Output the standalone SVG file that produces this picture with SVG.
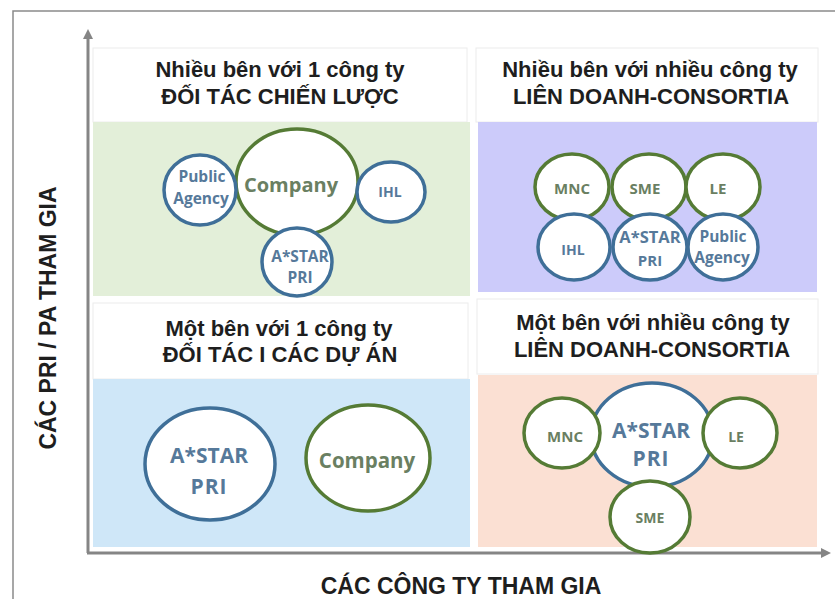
<svg xmlns="http://www.w3.org/2000/svg" width="835" height="599" viewBox="0 0 835 599">
<style>
.hdr{fill:#fff;stroke:#ececec;stroke-width:1}
.t{font-family:"Liberation Sans",Arial,sans-serif;font-weight:bold;font-size:22px;fill:#1e1e1e;text-anchor:middle}
.ax{font-family:"Liberation Sans",Arial,sans-serif;font-weight:bold;font-size:23px;fill:#1e1e1e;text-anchor:middle}
.g{fill:#fff;stroke:#557b35;stroke-width:3.5}
.b{fill:#fff;stroke:#3f6f98;stroke-width:3.5}
.lg{font-family:"Open Sans","Liberation Sans",sans-serif;font-weight:bold;fill:#6a7f62;text-anchor:middle}
.lb{font-family:"Open Sans","Liberation Sans",sans-serif;font-weight:bold;fill:#56799a;text-anchor:middle}
.axis{stroke:#858585;stroke-width:3;fill:none}
</style>
<defs>
<marker id="arr" markerWidth="10" markerHeight="10" refX="5" refY="5" orient="auto" markerUnits="userSpaceOnUse">
<path d="M0,0 L10,5 L0,10 z" fill="#858585"/>
</marker>
</defs>
<rect x="0" y="0" width="835" height="599" fill="#fff"/>
<path d="M13,605 L13,11 L840,11" fill="none" stroke="#8a8a8a" stroke-width="1.5"/>

<g id="q-top-left">
<rect class="hdr" x="93" y="48" width="374" height="74"/>
<rect x="93" y="122" width="377" height="174" fill="#e3efd9"/>
<text class="t" x="280" y="77">Nhiều bên với 1 công ty</text>
<text class="t" x="280" y="104">ĐỐI TÁC CHIẾN LƯỢC</text>
</g>
<g id="q-top-right">
<rect class="hdr" x="476" y="48" width="342" height="74"/>
<rect x="478" y="122" width="339" height="170" fill="#cccbfa"/>
<text class="t" x="650" y="77">Nhiều bên với nhiều công ty</text>
<text class="t" x="651" y="104">LIÊN DOANH-CONSORTIA</text>
</g>
<g id="q-bottom-left">
<rect class="hdr" x="93" y="303" width="375" height="76"/>
<rect x="93" y="379" width="377" height="168" fill="#cfe7f8"/>
<text class="t" x="279" y="336">Một bên với 1 công ty</text>
<text class="t" x="280" y="362">ĐỐI TÁC I CÁC DỰ ÁN</text>
</g>
<g id="q-bottom-right">
<rect class="hdr" x="477" y="299" width="341" height="75"/>
<rect x="478" y="375" width="339" height="172" fill="#fbe0d3"/>
<text class="t" x="653" y="330">Một bên với nhiều công ty</text>
<text class="t" x="652" y="357">LIÊN DOANH-CONSORTIA</text>
</g>

<g id="connectors">
<line class="axis" x1="88" y1="553" x2="88" y2="34" marker-end="url(#arr)"/>
<line class="axis" x1="87" y1="553" x2="826" y2="553" marker-end="url(#arr)"/>
</g>

<g id="tl-company"><ellipse class="g" cx="297" cy="182" rx="61" ry="53"/><text class="lg" x="291" y="192" font-size="20">Company</text></g>
<g id="tl-public-agency"><ellipse class="b" cx="200" cy="190" rx="36" ry="35"/><text class="lb" x="202" y="182" font-size="15.5">Public</text><text class="lb" x="201" y="204" font-size="15.5">Agency</text></g>
<g id="tl-ihl"><ellipse class="b" cx="391" cy="192" rx="34" ry="30"/><text class="lb" x="390" y="197" font-size="14">IHL</text></g>
<g id="tl-astar"><ellipse class="b" cx="297" cy="262" rx="35" ry="34"/><text class="lb" x="300" y="262" font-size="15.5">A*STAR</text><text class="lb" x="300" y="283" font-size="15.5">PRI</text></g>

<g id="tr-mnc"><ellipse class="g" cx="572" cy="187" rx="37" ry="33"/><text class="lg" x="572" y="194" font-size="15">MNC</text></g>
<g id="tr-sme"><ellipse class="g" cx="649" cy="187" rx="37" ry="33"/><text class="lg" x="645" y="194" font-size="15">SME</text></g>
<g id="tr-le"><ellipse class="g" cx="723" cy="187" rx="37" ry="33"/><text class="lg" x="718" y="194" font-size="15">LE</text></g>
<g id="tr-ihl"><ellipse class="b" cx="574" cy="247" rx="36" ry="33"/><text class="lb" x="573" y="255" font-size="14">IHL</text></g>
<g id="tr-astar"><ellipse class="b" cx="650" cy="247" rx="37" ry="33"/><text class="lb" x="650" y="243" font-size="16.5">A*STAR</text><text class="lb" x="650" y="266" font-size="15">PRI</text></g>
<g id="tr-public-agency"><ellipse class="b" cx="723" cy="247" rx="35" ry="33"/><text class="lb" x="723" y="242" font-size="15.5">Public</text><text class="lb" x="722" y="263" font-size="15.5">Agency</text></g>

<g id="bl-astar"><ellipse class="b" cx="210" cy="464" rx="65" ry="56"/><text class="lb" x="209" y="463" font-size="21">A*STAR</text><text class="lb" x="209" y="494" font-size="21" letter-spacing="1">PRI</text></g>
<g id="bl-company"><ellipse class="g" cx="368" cy="458" rx="62" ry="53"/><text class="lg" x="367" y="468" font-size="20.5">Company</text></g>

<g id="br-astar"><ellipse class="b" cx="652" cy="435" rx="61" ry="52"/><text class="lb" x="651" y="438" font-size="21">A*STAR</text><text class="lb" x="651" y="466" font-size="21" letter-spacing="1">PRI</text></g>
<g id="br-mnc"><ellipse class="g" cx="562" cy="433" rx="38" ry="35"/><text class="lg" x="565" y="442" font-size="15">MNC</text></g>
<g id="br-le"><ellipse class="g" cx="740" cy="433" rx="37" ry="35"/><text class="lg" x="736" y="442" font-size="14">LE</text></g>
<g id="br-sme"><ellipse class="g" cx="650" cy="517" rx="40" ry="36"/><text class="lg" x="650" y="523" font-size="14">SME</text></g>

<text class="ax" font-size="24" transform="translate(56,318) rotate(-90)">CÁC PRI / PA THAM GIA</text>
<text class="ax" x="461" y="594">CÁC CÔNG TY THAM GIA</text>
</svg>
